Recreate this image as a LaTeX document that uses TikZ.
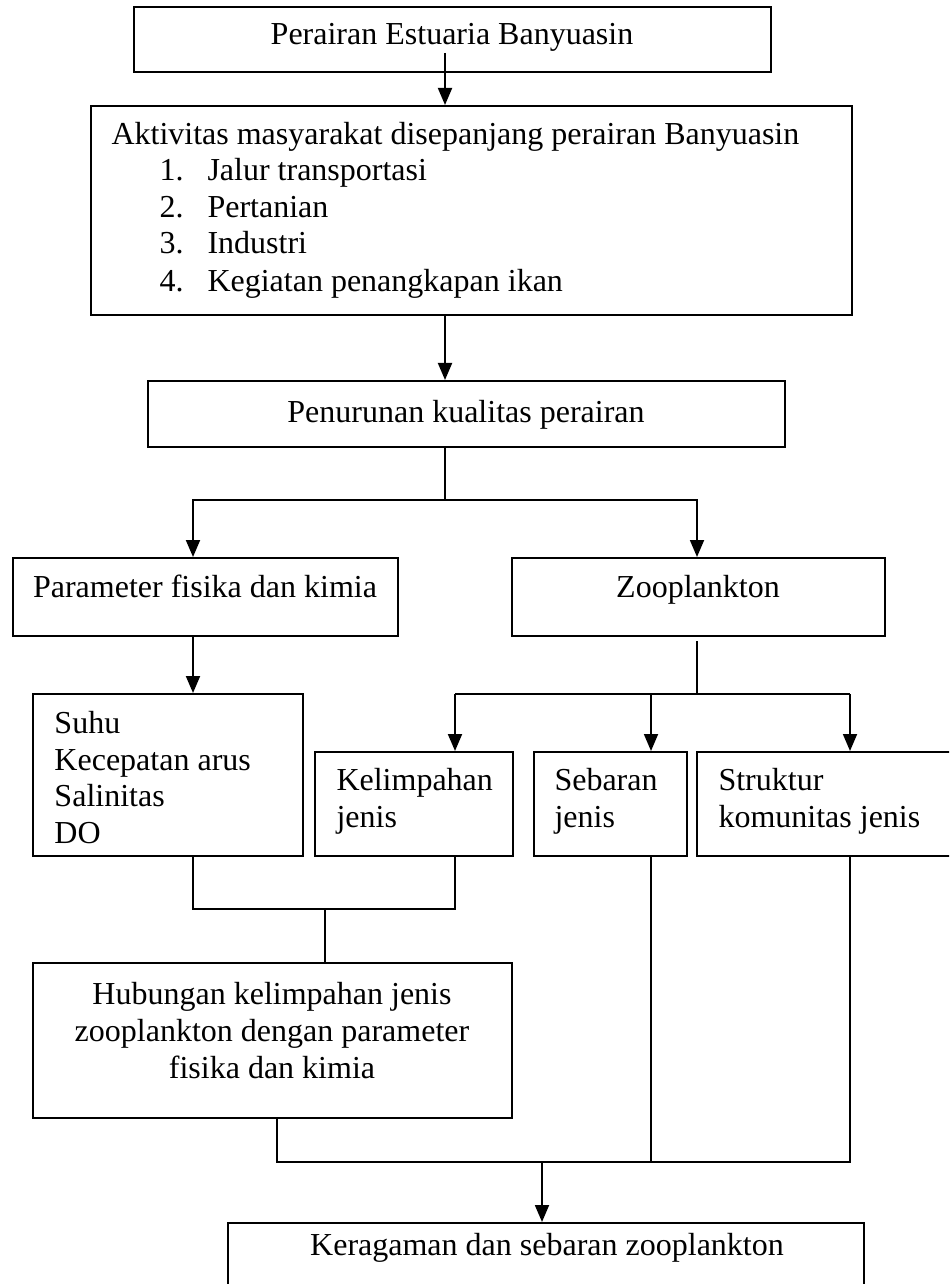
\documentclass[tikz,border=0pt]{standalone}
\usepackage{fontspec}
\setmainfont{Liberation Serif}
\usetikzlibrary{arrows.meta,fit}
\begin{document}
\begin{tikzpicture}[x=0.4pt,y=-0.4pt,
 box/.style={draw,line width=0.8pt,inner sep=0pt},
 txt/.style={inner sep=0pt,font=\fontsize{12.8}{15}\selectfont},
 ln/.style={line width=0.75pt},
 arr/.style={ln,-{Triangle[length=6.8pt,width=5.6pt]}}]
\useasboundingbox (0,0) rectangle (949,1284);
\clip (0,0) rectangle (949,1284);
% boxes
\node[box,fit={(134,7)(771,72)}] (b1) {};
\node[txt,anchor=base] (t1) at (452,45) {Perairan Estuaria Banyuasin};
\node[box,fit={(91,106)(852,315)}] (b2) {};
\node[txt,anchor=base west] (t2) at (111,145) {Aktivitas masyarakat disepanjang perairan Banyuasin};
\node[txt,anchor=base west] (n1) at (159,181) {1.};
\node[txt,anchor=base west] (i1) at (207,181) {Jalur transportasi};
\node[txt,anchor=base west] (n2) at (159,218) {2.};
\node[txt,anchor=base west] (i2) at (207,218) {Pertanian};
\node[txt,anchor=base west] (n3) at (159,254) {3.};
\node[txt,anchor=base west] (i3) at (207,254) {Industri};
\node[txt,anchor=base west] (n4) at (159,292) {4.};
\node[txt,anchor=base west] (i4) at (207,292) {Kegiatan penangkapan ikan};
\node[box,fit={(148,381)(785,447)}] (b3) {};
\node[txt,anchor=base] (t3) at (466,422) {Penurunan kualitas perairan};
\node[box,fit={(13,558)(398,636)}] (b4) {};
\node[txt,anchor=base] (t4) at (205,597) {Parameter fisika dan kimia};
\node[box,fit={(512,558)(885,636)}] (b5) {};
\node[txt,anchor=base] (t5) at (698,597) {Zooplankton};
\node[box,fit={(33,694)(303,856)}] (b6) {};
\node[txt,anchor=base west] (t6a) at (54,733) {Suhu};
\node[txt,anchor=base west] (t6b) at (54,770) {Kecepatan arus};
\node[txt,anchor=base west] (t6c) at (54,806) {Salinitas};
\node[txt,anchor=base west] (t6d) at (54,843) {DO};
\node[box,fit={(315,752)(513,856)}] (b7) {};
\node[txt,anchor=base west] (t7a) at (336,790) {Kelimpahan};
\node[txt,anchor=base west] (t7b) at (336,827) {jenis};
\node[box,fit={(534,752)(687,856)}] (b8) {};
\node[txt,anchor=base west] (t8a) at (554,790) {Sebaran};
\node[txt,anchor=base west] (t8b) at (554,827) {jenis};
\node[box,fit={(697,752)(965,856)}] (b9) {};
\node[txt,anchor=base west] (t9a) at (718,790) {Struktur};
\node[txt,anchor=base west] (t9b) at (718,827) {komunitas jenis};
\node[box,fit={(33,963)(512,1118)}] (b10) {};
\node[txt,anchor=base] (t10a) at (272,1004) {Hubungan kelimpahan jenis};
\node[txt,anchor=base] (t10b) at (272,1041) {zooplankton dengan parameter};
\node[txt,anchor=base] (t10c) at (272,1078) {fisika dan kimia};
\node[box,fit={(228,1223)(864,1289)}] (b11) {};
\node[txt,anchor=base] (t11) at (547,1255) {Keragaman dan sebaran zooplankton};
% connectors
\coordinate (a1s) at (445,53);
\draw[arr] (a1s) -- (a1s |- b2.north);
\draw[arr] (b2.south -| a1s) -- (b3.north -| a1s);
\coordinate (j1) at (445,500);
\coordinate (j1l) at (193,500);
\coordinate (j1r) at (697,500);
\draw[arr] (b3.south -| a1s) -- (j1) -- (j1l) -- (j1l |- b4.north);
\draw[arr] (j1) -- (j1r) -- (j1r |- b5.north);
\draw[arr] (b4.south -| j1l) -- (b6.north -| j1l);
\coordinate (z0) at (697,641);
\coordinate (z1) at (697,694);
\coordinate (k) at (455,694);
\coordinate (s) at (651,694);
\coordinate (st) at (850,694);
\draw[ln] (z0) -- (z1);
\draw[ln] (k) -- (st);
\draw[arr] (k) -- (k |- b7.north);
\draw[arr] (s) -- (s |- b8.north);
\draw[arr] (st) -- (st |- b9.north);
\coordinate (h1) at (193,909);
\coordinate (h2) at (455,909);
\coordinate (h3) at (325,909);
\draw[ln] (b6.south -| h1) -- (h1) -- (h2) -- (b7.south -| h2);
\draw[ln] (h3) -- (h3 |- b10.north);
\coordinate (g1) at (277,1162);
\coordinate (g2) at (651,1162);
\coordinate (g3) at (850,1162);
\coordinate (g0) at (542,1162);
\draw[ln] (b10.south -| g1) -- (g1) -- (g3) -- (b9.south -| g3);
\draw[ln] (b8.south -| g2) -- (g2);
\draw[arr] (g0) -- (g0 |- b11.north);
\end{tikzpicture}
\end{document}
